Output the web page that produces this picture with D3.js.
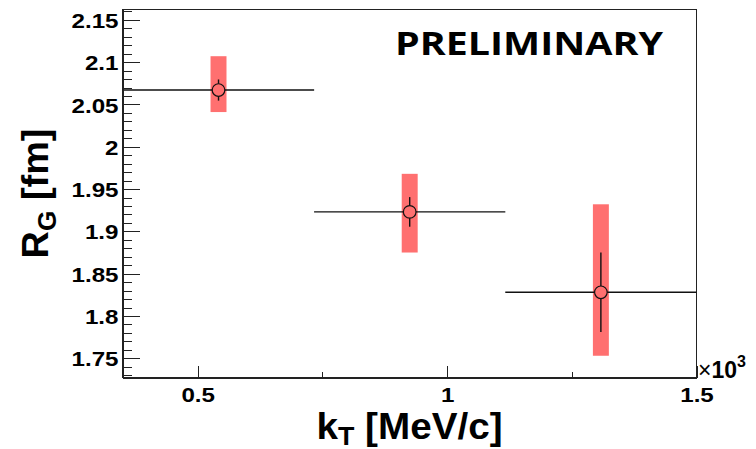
<!DOCTYPE html>
<html>
<head>
<meta charset="utf-8">
<script src="https://cdn.jsdelivr.net/npm/d3@7"></script>
<style>
  html, body { margin: 0; padding: 0; background: #fff; }
  svg { display: block; }
  .lbl { font-family: "Liberation Sans", Arial, Helvetica, sans-serif; font-weight: bold; fill: #000; }
</style>
</head>
<body>
<svg id="chart"></svg>
<script>
// kT bins in MeV/c, R_G in fm
const ktCenters = [541.7, 925.0, 1308.3];
const ktHalfWidths = [191.7, 191.7, 191.7];
const rgValues = [2.067, 1.923, 1.828];
const rgStatErr = [0.0125, 0.0175, 0.047];
const rgSysUp = [0.040, 0.045, 0.104];
const rgSysDown = [0.026, 0.048, 0.075];
const sysHalfWidth = 16; // MeV/c, half width of the systematic box

const xMajorTicks = [500, 1000, 1500];
const xMinorTicks = [750, 1250];
const yMajorTicks = [1.75, 1.8, 1.85, 1.9, 1.95, 2.0, 2.05, 2.1, 2.15];
const yMinorTicks = [1.73, 1.74, 1.76, 1.77, 1.78, 1.79, 1.81, 1.82, 1.83, 1.84, 1.86, 1.87, 1.88, 1.89,
  1.91, 1.92, 1.93, 1.94, 1.96, 1.97, 1.98, 1.99, 2.01, 2.02, 2.03, 2.04, 2.06, 2.07, 2.08, 2.09,
  2.11, 2.12, 2.13, 2.14, 2.16];

const width = 756, height = 449;
const stretch = 1.15; // labels in the picture are wider than plain Helvetica bold

const svg = d3.select("#chart").attr("width", width).attr("height", height);

const x = d3.scaleLinear().domain([349.2, 1500]).range([122.5, 696.5]);
const y = d3.scaleLinear().domain([1.7273, 2.1622]).range([377.5, 9.5]);

// frame
svg.append("rect")
  .attr("x", x.range()[0]).attr("y", y.range()[1])
  .attr("width", x.range()[1] - x.range()[0])
  .attr("height", y.range()[0] - y.range()[1])
  .attr("fill", "none").attr("stroke", "#222").attr("stroke-width", 1)
  .attr("shape-rendering", "crispEdges");

const points = ktCenters.map((kt, i) => ({
  kt, hw: ktHalfWidths[i], rg: rgValues[i], stat: rgStatErr[i], up: rgSysUp[i], down: rgSysDown[i]
}));

// systematic boxes
svg.append("g").selectAll("rect")
  .data(points)
  .join("rect")
  .attr("x", d => x(d.kt - sysHalfWidth))
  .attr("width", d => x(d.kt + sysHalfWidth) - x(d.kt - sysHalfWidth))
  .attr("y", d => y(d.rg + d.up))
  .attr("height", d => y(d.rg - d.down) - y(d.rg + d.up))
  .attr("fill", "#ff7070");

// error bars, stopping at the marker edge
const r = 6.3;
const bars = svg.append("g").attr("stroke", "#111").attr("stroke-width", 1.4);
points.forEach(d => {
  const cx = x(d.kt), cy = y(d.rg);
  const x0 = Math.max(x(d.kt - d.hw), x.range()[0]);
  const x1 = Math.min(x(d.kt + d.hw), x.range()[1]);
  bars.append("line").attr("x1", x0).attr("x2", cx - r).attr("y1", cy).attr("y2", cy);
  bars.append("line").attr("x1", cx + r).attr("x2", x1).attr("y1", cy).attr("y2", cy);
  bars.append("line").attr("x1", cx).attr("x2", cx).attr("y1", y(d.rg + d.stat)).attr("y2", cy - r);
  bars.append("line").attr("x1", cx).attr("x2", cx).attr("y1", cy + r).attr("y2", y(d.rg - d.stat));
});

svg.append("g").selectAll("circle")
  .data(points)
  .join("circle")
  .attr("cx", d => x(d.kt))
  .attr("cy", d => y(d.rg))
  .attr("r", r)
  .attr("fill", "none")
  .attr("stroke", "#111")
  .attr("stroke-width", 1.2);

// axes, ticks drawn inward
const fmtY = d => String(+d.toFixed(2));
const fmtX = d => String(+(d / 1000).toFixed(2));

const yAxis = svg.append("g").attr("transform", `translate(${x.range()[0]},0)`)
  .call(d3.axisLeft(y).tickValues(yMajorTicks).tickSizeInner(-17).tickSizeOuter(0).tickPadding(4).tickFormat(fmtY));
svg.append("g").attr("transform", `translate(${x.range()[0]},0)`)
  .call(d3.axisLeft(y).tickValues(yMinorTicks).tickSizeInner(-9).tickSizeOuter(0).tickFormat(""));

svg.append("g").attr("transform", `translate(0,${y.range()[0]})`)
  .call(d3.axisBottom(x).tickValues(xMajorTicks).tickSizeInner(-12).tickSizeOuter(0).tickPadding(10).tickFormat(fmtX));
svg.append("g").attr("transform", `translate(0,${y.range()[0]})`)
  .call(d3.axisBottom(x).tickValues(xMinorTicks).tickSizeInner(-6).tickSizeOuter(0).tickFormat(""));

svg.selectAll(".domain").attr("stroke", "#222").attr("shape-rendering", "crispEdges");
svg.selectAll(".tick line").attr("stroke", "#222").attr("shape-rendering", "crispEdges");
svg.selectAll(".tick text").attr("class", "lbl").attr("font-size", 21).attr("fill", "#000");
yAxis.selectAll(".tick text").attr("dy", "0.36em");

// widen tick labels to match
svg.selectAll(".tick text").each(function () {
  const w = this.getComputedTextLength();
  d3.select(this).attr("textLength", w * stretch).attr("lengthAdjust", "spacingAndGlyphs");
});

// exponent label
const expo = svg.append("text").attr("class", "lbl")
  .attr("x", 698).attr("y", 378).attr("font-size", 23);
expo.append("tspan").attr("font-weight", "normal").text("×");
expo.append("tspan").text("10");
expo.append("tspan").attr("font-size", 16).attr("dy", -11).text("3");

// axis titles
const xTitle = svg.append("text").attr("class", "lbl")
  .attr("x", (x.range()[0] + x.range()[1]) / 2).attr("y", 439)
  .attr("text-anchor", "middle").attr("font-size", 36)
  .attr("textLength", 186).attr("lengthAdjust", "spacingAndGlyphs");
xTitle.append("tspan").text("k");
xTitle.append("tspan").attr("font-size", 25).attr("dy", 6).text("T");
xTitle.append("tspan").attr("dy", -6).text(" [MeV/c]");

const yTitle = svg.append("text").attr("class", "lbl")
  .attr("transform", `translate(48,${(y.range()[0] + y.range()[1]) / 2}) rotate(-90)`)
  .attr("text-anchor", "middle").attr("font-size", 36)
  .attr("textLength", 130).attr("lengthAdjust", "spacingAndGlyphs");
yTitle.append("tspan").text("R");
yTitle.append("tspan").attr("font-size", 25).attr("dy", 8).text("G");
yTitle.append("tspan").attr("dy", -8).text(" [fm]");

// preliminary tag
svg.append("text")
  .attr("x", 395).attr("y", 55)
  .attr("font-family", "'Open Sans', 'Noto Sans', sans-serif")
  .attr("font-weight", "bold").attr("font-size", 32)
  .attr("textLength", 268).attr("lengthAdjust", "spacingAndGlyphs")
  .text("PRELIMINARY");
</script>
</body>
</html>
